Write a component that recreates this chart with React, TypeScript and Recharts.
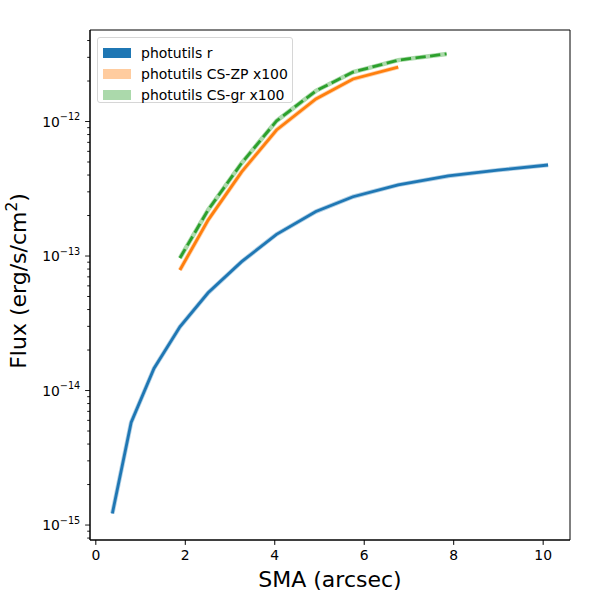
import React from 'react'
import { LineChart, Line, XAxis, YAxis, Legend, Label, CartesianGrid } from 'recharts'

const BLUE = '#1f77b4'
const ORANGE = '#ff7f0e'
const GREEN = '#2ca02c'
const FONT = '"DejaVu Sans", sans-serif'

// photutils r band profile
const SMA_R = [0.37, 0.79, 1.3, 1.88, 2.51, 3.26, 4.04, 4.92, 5.75, 6.76, 7.88, 8.99, 10.11]
const FLUX_R = [
  1.22e-15, 5.8e-15, 1.46e-14, 2.98e-14, 5.33e-14, 9.08e-14, 1.45e-13, 2.14e-13, 2.76e-13,
  3.38e-13, 3.94e-13, 4.35e-13, 4.75e-13,
]

// CS-ZP x100
const SMA_ZP = [1.88, 2.51, 3.26, 4.04, 4.92, 5.75, 6.76]
const FLUX_ZP = [7.87e-14, 1.85e-13, 4.22e-13, 8.65e-13, 1.47e-12, 2.07e-12, 2.54e-12]

// CS-gr x100
const SMA_GR = [1.88, 2.51, 3.26, 4.04, 4.92, 5.75, 6.76, 7.84]
const FLUX_GR = [9.66e-14, 2.2e-13, 4.91e-13, 1.01e-12, 1.69e-12, 2.33e-12, 2.86e-12, 3.18e-12]

const X_TICKS = [0, 2, 4, 6, 8, 10]
const Y_MAJOR = [1e-15, 1e-14, 1e-13, 1e-12]
const Y_MINOR_MULT = [2, 3, 4, 5, 6, 7, 8, 9]
const X_DOMAIN = [-0.13, 10.6]
const Y_DOMAIN = [7.74e-16, 4.79e-12]

const LEGEND = [
  { label: 'photutils r', fill: BLUE },
  { label: 'photutils CS-ZP x100', fill: 'rgba(255,127,14,0.4)' },
  { label: 'photutils CS-gr x100', fill: 'rgba(44,160,44,0.4)' },
]

const rData = SMA_R.map((s, i) => ({ sma: s, flux: FLUX_R[i] }))
const zpData = SMA_ZP.map((s, i) => ({ sma: s, flux: FLUX_ZP[i] }))
const grData = SMA_GR.map((s, i) => ({ sma: s, flux: FLUX_GR[i] }))

// minor ticks at 2..9 x 10^n, kept inside the visible range
const yTicks = [
  ...Y_MAJOR,
  ...[1e-16, ...Y_MAJOR]
    .flatMap((d) => Y_MINOR_MULT.map((m) => m * d))
    .filter((v) => v >= Y_DOMAIN[0] && v <= Y_DOMAIN[1]),
].sort((a, b) => a - b)

function YTick(props: any) {
  const { x, y, payload } = props
  const v = payload.value
  const exp = Math.round(Math.log10(v))
  const major = Math.abs(v / Math.pow(10, exp) - 1) < 1e-6
  const len = major ? 4.9 : 2.8
  return (
    <g>
      <line x1={x} x2={x - len} y1={y} y2={y} stroke="#000" strokeWidth={0.9} />
      {major && (
        <text x={x - 9.7} y={y + 5} textAnchor="end" fontSize={13.9} fontFamily={FONT} fill="#000">
          <tspan>10</tspan>
          <tspan dy={-6.5} fontSize={9.7}>
            {'\u2212' + Math.abs(exp)}
          </tspan>
        </text>
      )}
    </g>
  )
}

function LegendBox() {
  return (
    <div
      style={{
        width: 196,
        height: 66,
        boxSizing: 'border-box',
        border: '1px solid #d6d6d6',
        borderRadius: 3,
        background: 'rgba(255,255,255,0.8)',
        padding: '4px 0 0 5px',
        fontFamily: FONT,
        fontSize: 14,
        color: '#000',
      }}
    >
      {LEGEND.map((l) => (
        <div key={l.label} style={{ display: 'flex', alignItems: 'center', height: 21 }}>
          <span style={{ width: 28, height: 10, background: l.fill, marginRight: 10, display: 'inline-block' }} />
          <span>{l.label}</span>
        </div>
      ))}
    </div>
  )
}

export default function App() {
  return (
    <div style={{ position: 'absolute', left: 0, top: 0, width: 600, height: 600, background: '#fff' }}>
      <LineChart width={600} height={600} margin={{ top: 30, right: 30, left: 0, bottom: 0 }}>
        {/* box frame round the plot area */}
        <CartesianGrid
          stroke="#000"
          strokeWidth={1}
          horizontalCoordinatesGenerator={({ offset }: any) => [offset.top, offset.top + offset.height]}
          verticalCoordinatesGenerator={({ offset }: any) => [offset.left, offset.left + offset.width]}
        />
        <XAxis
          dataKey="sma"
          type="number"
          domain={X_DOMAIN}
          ticks={X_TICKS}
          allowDataOverflow
          height={60}
          tickSize={4.9}
          tickMargin={4.9}
          stroke="#000"
          tick={{ fontSize: 13.9, fill: '#000', fontFamily: FONT }}
          tickLine={{ stroke: '#000' }}
          axisLine={{ stroke: '#000' }}
        >
          <Label
            content={(p: any) => {
              const vb = p.viewBox
              return (
                <text x={vb.x + vb.width / 2} y={587} textAnchor="middle" fontSize={22} fontFamily={FONT} fill="#000">
                  SMA (arcsec)
                </text>
              )
            }}
          />
        </XAxis>
        <YAxis
          scale="log"
          type="number"
          domain={Y_DOMAIN}
          ticks={yTicks}
          interval={0}
          allowDataOverflow
          width={90}
          tickSize={0}
          tickMargin={0}
          tickLine={false}
          tick={<YTick />}
          axisLine={{ stroke: '#000' }}
        >
          <Label
            content={(p: any) => {
              const vb = p.viewBox
              const cx = 25.5
              const cy = vb.y + vb.height / 2 - 4
              return (
                <text
                  x={cx}
                  y={cy}
                  transform={`rotate(-90, ${cx}, ${cy})`}
                  textAnchor="middle"
                  fontSize={22}
                  fontFamily={FONT}
                  fill="#000"
                >
                  <tspan>Flux (erg/s/cm</tspan>
                  <tspan dy={-9} fontSize={15.4}>2</tspan>
                  <tspan dy={9}>)</tspan>
                </text>
              )
            }}
          />
        </YAxis>

        <Line data={rData} dataKey="flux" stroke={BLUE} strokeOpacity={0.35} strokeWidth={4.5} dot={false} legendType="none" isAnimationActive={false} />
        <Line data={rData} dataKey="flux" stroke={BLUE} strokeWidth={2.8} dot={false} isAnimationActive={false} />
        <Line data={zpData} dataKey="flux" stroke={ORANGE} strokeOpacity={0.35} strokeWidth={4.5} dot={false} legendType="none" isAnimationActive={false} />
        <Line data={zpData} dataKey="flux" stroke={ORANGE} strokeWidth={2.8} dot={false} isAnimationActive={false} />
        <Line data={grData} dataKey="flux" stroke={GREEN} strokeOpacity={0.4} strokeWidth={4.5} dot={false} legendType="none" isAnimationActive={false} />
        <Line data={grData} dataKey="flux" stroke={GREEN} strokeWidth={2.8} strokeDasharray="10.3 4.4" dot={false} isAnimationActive={false} />

        <Legend
          layout="horizontal"
          verticalAlign="middle"
          align="center"
          content={() => <LegendBox />}
          wrapperStyle={{ left: 97, top: 37, width: 196, height: 66 }}
        />
      </LineChart>
    </div>
  )
}
